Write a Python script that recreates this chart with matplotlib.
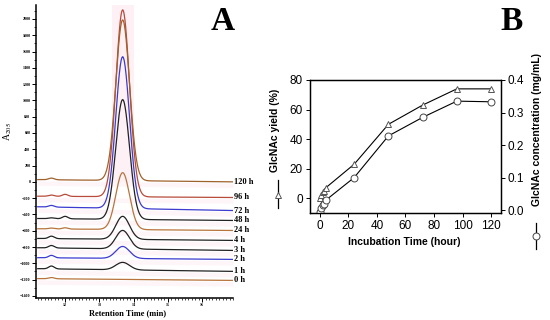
import numpy as np
import matplotlib.pyplot as plt
from matplotlib.lines import Line2D
from matplotlib.ticker import MultipleLocator

# ---- panel A : chromatograms (offset traces) ----
trace_labels = ['0 h', '1 h', '2 h', '3 h', '4 h', '24 h', '48 h', '72 h', '96 h', '120 h']
trace_colors = ['#b8743c', '#222222', '#3b3bd0', '#222222', '#222222',
                '#b8743c', '#222222', '#3b3bd0', '#b84a3a', '#a0622d']
base_left = [-1188, -1066, -931, -809, -695, -576, -450, -306, -176, 28]
base_right = [-1210, -1099, -952, -842, -719, -597, -474, -352, -192, 0]
peak_height = [0, 92, 147, 227, 282, 698, 1470, 1862, 2294, 1972]
bump_a = [15, 35, 30, 30, 30, 10, 10, 20, 15, 20]   # small bump ~11.6 min
bump_b = [0, 0, 0, 0, 0, 15, 30, 0, 25, 0]          # small bump ~12.0 min
peak_rt = 13.68
peak_sd = 0.2

# ---- panel B : GlcNAc yield / concentration ----
hours = [0, 1, 2, 3, 4, 24, 48, 72, 96, 120]
yield_pct = [0, 2, 4, 5, 7, 23, 50, 63, 74, 74]
conc = [-0.005, 0.005, 0.015, 0.02, 0.03, 0.10, 0.228, 0.285, 0.335, 0.333]

serif = 'Liberation Serif'
sans = 'Liberation Sans'

fig = plt.figure(figsize=(5.5, 3.2), dpi=100)

ax1 = fig.add_axes([0.0655, 0.069, 0.358, 0.915])
t = np.linspace(11.2, 16.9, 800)
ax1.fill_between([13.38, 14.0], -40, 2170, color='#fdf1f6', lw=0, zorder=0)
for i, lab in enumerate(trace_labels):
    base = np.interp(t, [t[0], t[-1]], [base_left[i], base_right[i]])
    y = base + peak_height[i] * np.exp(-0.5 * ((t - peak_rt) / peak_sd) ** 2)
    y += bump_a[i] * np.exp(-0.5 * ((t - 11.6) / 0.08) ** 2)
    y += bump_b[i] * np.exp(-0.5 * ((t - 12.0) / 0.08) ** 2)
    ax1.fill_between(t, base - 15, base - 70, color='#fef5f9', lw=0, zorder=0)
    ax1.plot(t, y, color=trace_colors[i], lw=0.9)
    ax1.text(16.92, base_right[i], lab, ha='left', va='center', fontsize=6,
             fontweight='bold', family=serif, clip_on=False)

ax1.set_xlim(11.15, 16.9)
ax1.set_ylim(-1425, 2170)
ax1.set_xticks([12, 13, 14, 15, 16])
ax1.xaxis.set_minor_locator(MultipleLocator(0.1))
ax1.set_yticks(range(-1400, 2001, 200))
ax1.yaxis.set_minor_locator(MultipleLocator(100))
ax1.tick_params(which='major', length=3, width=0.7, labelsize=3, pad=1)
ax1.tick_params(which='minor', length=1.5, width=0.5)
for lbl in ax1.get_xticklabels() + ax1.get_yticklabels():
    lbl.set_family(serif)
    lbl.set_fontweight('bold')
for s in ['top', 'right']:
    ax1.spines[s].set_visible(False)
for s in ['left', 'bottom']:
    ax1.spines[s].set_linewidth(1.1)

fig.text(128 / 550, 1 - 313 / 320, 'Retention Time (min)', ha='center', va='center',
         fontsize=6, fontweight='bold', family=serif)
plt.rcParams['mathtext.fontset'] = 'stix'
fig.text(8 / 550, 1 - 132 / 320, r'A$_{\mathrm{205}}$', rotation=90, ha='center',
         va='center', fontsize=7, family=serif)
fig.text(223 / 550, 1 - 22 / 320, 'A', ha='center', va='center', fontsize=24,
         fontweight='bold', family=serif)

# panel B
ax2 = fig.add_axes([0.5636, 0.3344, 0.3473, 0.4156])
ax2.plot(hours, yield_pct, color='black', lw=0.8, marker='^', ms=5,
         mfc='white', mec='#555555', mew=0.7)
ax2.set_xlim(-7, 127)
ax2.set_ylim(-10, 80)
ax2.set_xticks(range(0, 121, 20))
ax2.set_yticks(range(0, 81, 20))

ax3 = ax2.twinx()
ax3.plot(hours, conc, color='black', lw=0.8, marker='o', ms=5,
         mfc='white', mec='#444444', mew=0.7)
ax3.set_ylim(-0.009, 0.4)
ax3.set_yticks([0.0, 0.1, 0.2, 0.3, 0.4])
ax3.set_yticklabels(['0.0', '0.1', '0.2', '0.3', '0.4'])

for ax in (ax2, ax3):
    ax.tick_params(length=3, width=0.7, labelsize=8.5, pad=2)
    for lbl in ax.get_xticklabels() + ax.get_yticklabels():
        lbl.set_family(sans)
    for s in ax.spines.values():
        s.set_linewidth(0.9)

fig.text(404 / 550, 1 - 242 / 320, 'Incubation Time (hour)', ha='center', va='center',
         fontsize=7.5, fontweight='bold', family=sans)
fig.text(275 / 550, 1 - 130 / 320, 'GlcNAc yield (%)', rotation=90, ha='center',
         va='center', fontsize=7.5, fontweight='bold', family=sans)
fig.text(537 / 550, 1 - 129 / 320, 'GlcNAc concentration (mg/mL)', rotation=90,
         ha='center', va='center', fontsize=7.5, fontweight='bold', family=sans)

# vertical legend keys under the axis titles
fig.add_artist(Line2D([278 / 550] * 3, [1 - 180 / 320, 1 - 195 / 320, 1 - 208 / 320],
                      color='black', lw=0.9, marker='^', markevery=[1], ms=5,
                      mfc='white', mec='#555555', mew=0.7))
fig.add_artist(Line2D([536 / 550] * 3, [1 - 223 / 320, 1 - 236 / 320, 1 - 249 / 320],
                      color='black', lw=0.9, marker='o', markevery=[1], ms=5,
                      mfc='white', mec='#444444', mew=0.7))

fig.text(512 / 550, 1 - 22 / 320, 'B', ha='center', va='center', fontsize=24,
         fontweight='bold', family=serif)

fig.savefig('out.png', dpi=100)
